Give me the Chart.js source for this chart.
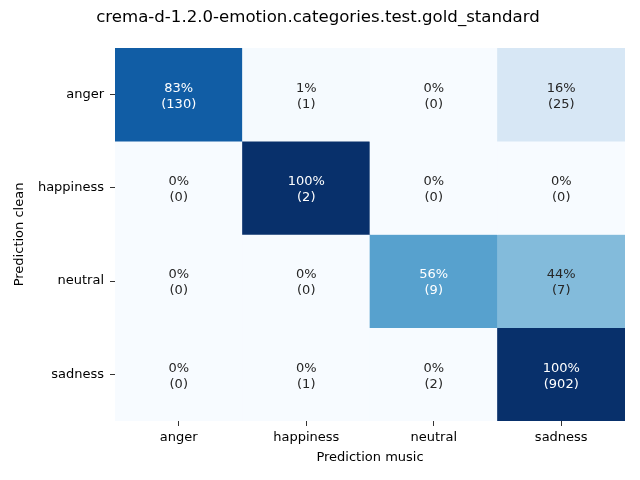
<!DOCTYPE html>
<html>
<head>
<meta charset="utf-8">
<script src="https://cdn.jsdelivr.net/npm/chart.js@4/dist/chart.umd.min.js"></script>
<style>
  html, body { margin: 0; padding: 0; background: #fff; }
  #wrap { width: 640px; height: 480px; }
</style>
</head>
<body>
<div id="wrap"><canvas id="matrix" width="640" height="480"></canvas></div>
<script>
// confusion matrix: rows = Prediction clean, cols = Prediction music
const rowLabels = ['anger', 'happiness', 'neutral', 'sadness'];
const colLabels = ['anger', 'happiness', 'neutral', 'sadness'];

const pctAnger = [83, 1, 0, 16];
const pctHappiness = [0, 100, 0, 0];
const pctNeutral = [0, 0, 56, 44];
const pctSadness = [0, 0, 0, 100];

const cntAnger = [130, 1, 0, 25];
const cntHappiness = [0, 2, 0, 0];
const cntNeutral = [0, 0, 9, 7];
const cntSadness = [0, 1, 2, 902];

const percents = [pctAnger, pctHappiness, pctNeutral, pctSadness];
const counts = [cntAnger, cntHappiness, cntNeutral, cntSadness];

// matplotlib "Blues" anchors
const blues = ['#f7fbff', '#deebf7', '#c6dbef', '#9ecae1', '#6baed6', '#4292c6', '#2171b5', '#08519c', '#08306b'];

function hexToRgb(h) {
    return [parseInt(h.slice(1, 3), 16), parseInt(h.slice(3, 5), 16), parseInt(h.slice(5, 7), 16)];
}

function bluesColor(t) {
    t = Math.max(0, Math.min(1, t));
    let pos = t * (blues.length - 1);
    let i = Math.min(Math.floor(pos), blues.length - 2);
    let f = pos - i;
    let a = hexToRgb(blues[i]);
    let b = hexToRgb(blues[i + 1]);
    let c = a.map((v, k) => Math.round(v + (b[k] - v) * f));
    return `rgb(${c[0]},${c[1]},${c[2]})`;
}

const FONT = '"DejaVu Sans", sans-serif';

let datasets = rowLabels.map((row, r) => ({
    label: row,
    data: colLabels.map(() => [r, r + 1]),
    backgroundColor: percents[r].map(p => bluesColor(p / 100)),
    borderWidth: 0,
    borderSkipped: false,
    barPercentage: 1,
    categoryPercentage: 1,
    grouped: false
}));

const cellText = {
    id: 'cellText',
    afterDatasetsDraw(chart) {
        const ctx = chart.ctx;
        const xs = chart.scales.x;
        const ys = chart.scales.y;
        ctx.save();
        ctx.font = '13px ' + FONT;
        ctx.textAlign = 'center';
        ctx.textBaseline = 'middle';
        percents.forEach((row, r) => {
            row.forEach((p, c) => {
                let x = xs.getPixelForValue(c);
                let y = ys.getPixelForValue(r + 0.5);
                ctx.fillStyle = p >= 50 ? '#ffffff' : '#262626';
                ctx.fillText(p + '%', x, y - 6);
                ctx.fillText('(' + counts[r][c] + ')', x, y + 10);
            });
        });
        ctx.restore();
    }
};

let matrixChart = new Chart(document.getElementById('matrix').getContext('2d'), {
    type: 'bar',
    data: {
        labels: colLabels,
        datasets: datasets
    },
    options: {
        responsive: false,
        animation: false,
        events: [],
        layout: {
            padding: { left: 11, right: 15, top: 0, bottom: 11 }
        },
        plugins: {
            legend: { display: false },
            tooltip: { enabled: false },
            title: {
                display: true,
                text: 'crema-d-1.2.0-emotion.categories.test.gold_standard',
                color: '#000',
                font: { family: FONT, size: 16.6, weight: 'normal' },
                padding: { top: 8, bottom: 20 }
            }
        },
        scales: {
            x: {
                type: 'category',
                offset: true,
                grid: { display: true, offset: false, drawOnChartArea: false, drawTicks: true, tickLength: 5, color: '#333' },
                border: { display: false },
                ticks: { color: '#000', font: { family: FONT, size: 13 }, padding: 4, maxRotation: 0 },
                title: {
                    display: true,
                    text: 'Prediction music',
                    color: '#000',
                    font: { family: FONT, size: 13 },
                    padding: { top: 2, bottom: 4 }
                },
                afterFit(scale) { scale.height = 48; }
            },
            y: {
                type: 'linear',
                min: 0,
                max: 4,
                reverse: true,
                afterBuildTicks(scale) {
                    scale.ticks = rowLabels.map((_, i) => ({ value: i + 0.5 }));
                },
                grid: { display: true, drawOnChartArea: false, drawTicks: true, tickLength: 5, color: '#333' },
                border: { display: false },
                ticks: {
                    color: '#000',
                    font: { family: FONT, size: 13 },
                    padding: 6,
                    callback: (v, i) => rowLabels[i]
                },
                title: {
                    display: true,
                    text: 'Prediction clean',
                    color: '#000',
                    font: { family: FONT, size: 13 },
                    padding: { top: 1, bottom: 4 }
                },
                afterFit(scale) { scale.width = 104; }
            }
        }
    },
    plugins: [cellText]
});
</script>
</body>
</html>
